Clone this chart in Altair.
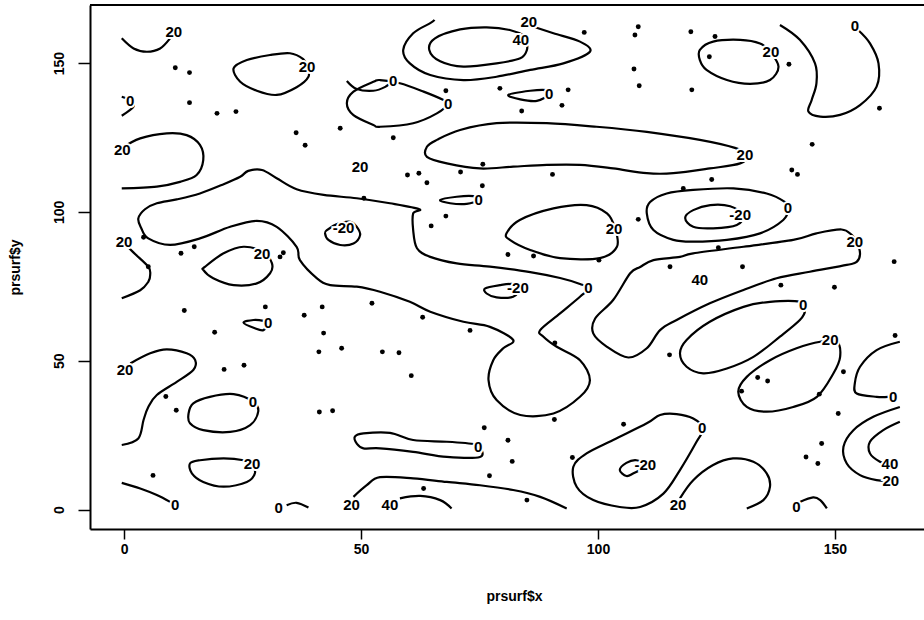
import altair as alt
import pandas as pd

# ---------------- contour lines (x, y in data units) -------------
# open contours (end at the edge of the grid)
open_20_topleft = [(-0.5,158.3),(2.0,154.9),(4.8,153.8),(7.6,154.9),(9.7,158.3),(11.0,161.7)]
open_0_left = [(-0.5,138.7),(1.3,137.5),(2.0,135.4),(-0.5,132.3)]
open_20_left = [(-0.5,121.4),(3.4,124.7),(9.0,126.4),(13.2,125.8),(16.0,122.5),(16.7,117.4),
                (15.3,112.4),(11.8,110.1),(6.9,108.5),(-0.5,107.9)]
open_20_leftedge = [(-0.5,90.6),(1.9,86.5),(5.1,81.6),(5.5,78.8),(5.1,76.5),(3.4,73.7),(-0.5,71.0)]
open_0_toparc = [(47.0,144.0),(49.1,141.3),(52.6,140.7),(55.1,142.0),(56.8,144.2)]
open_20_top = [(65.5,164.5),(64.6,163.4),(61.0,160.0),(58.9,154.4),(60.3,149.9),(64.6,146.0),(71.6,144.3),
               (78.6,145.4),(85.7,147.7),(92.7,149.9),(98.3,153.8),(96.2,157.2),(90.6,160.0),(86.4,162.2)]
open_0_crescent = [(138.4,162.8),(142.6,157.8),(145.8,149.9),(146.1,143.2),(145.1,137.6),(144.4,133.7),
                   (146.9,132.0),(151.1,132.6),(155.3,135.9),(158.8,142.1),(159.2,149.9),(157.4,156.6),
                   (154.9,161.1)]
open_0_right = [(163.7,56.4),(158.8,53.6),(155.3,48.0),(154.2,42.4),(154.6,39.0),(158.8,37.9),(161.2,37.9)]
open_20_right = [(163.7,34.5),(158.1,31.2),(153.9,26.7),(151.8,21.1),(152.5,15.5),(155.3,11.6),
                 (158.8,9.9),(161.5,9.7)]
open_40_right = [(163.7,29.5),(160.2,26.7),(157.4,22.8),(157.4,18.9),(159.5,16.1),(161.5,15.4)]
open_20_bottomright = [(117.3,3.8),(120.1,9.9),(124.3,15.0),(128.5,17.2),(132.8,16.1),(135.6,12.2),
                       (136.3,7.7),(134.9,3.2),(131.4,0.4)]
open_0_bottomright = [(142.6,2.6),(145.4,4.1),(146.9,3.2),(148.3,0.4)]
open_20_leftlower = [(1.3,49.1),(5.5,52.5),(9.0,53.8),(13.2,52.5),(15.0,50.2),(14.6,46.9),(11.1,42.9),
                     (6.9,38.5),(5.1,34.5),(4.1,30.1),(3.0,23.9),(-0.5,21.7)]
open_0_bottomleft = [(-0.5,9.0),(3.4,7.1),(6.9,4.9),(9.7,2.6)]
open_0_bottom = [(34.3,1.5),(36.4,2.3),(38.9,0.7)]
open_20_bottom = [(48.4,4.3),(51.2,8.2),(54.0,10.9),(61.0,10.5),(68.1,9.3),(75.1,8.2),(82.1,6.6),
                  (87.8,4.3),(93.4,0.4)]
open_40_bottom = [(58.2,3.8),(62.5,4.6),(66.7,3.2),(69.1,0.4)]

# closed contours
closed_20_a = [(23.1,148.2),(25.9,151.0),(30.8,152.7),(35.0,153.3),(37.8,151.3),(38.6,148.8),(38.9,145.4),
               (36.4,141.9),(32.2,139.3),(28.0,140.7),(24.5,143.7)]
closed_0_tongue = [(3.0,97.8),(4.4,100.9),(6.9,102.9),(11.1,104.2),(16.0,106.2),(21.0,109.3),(24.5,111.8),
                   (26.2,113.8),(29.1,114.1),(32.2,111.3),(36.4,107.6),(42.1,105.7),(49.1,104.6),
                   (56.1,102.9),(62.3,100.9),(61.0,99.5),(61.0,93.9),(61.8,87.8),(64.6,84.9),(70.2,82.7),
                   (77.2,81.6),(85.7,79.8),(92.0,77.8),(96.2,75.8),(98.0,74.3),(96.2,71.5),(92.0,65.9),
                   (87.8,60.3),(88.5,58.1),(91.3,54.7),(96.2,50.2),(98.3,43.5),(96.2,37.9),(90.6,32.3),
                   (83.6,31.8),(78.6,36.8),(76.9,43.5),(77.9,50.2),(80.0,54.2),(82.1,57.0),(77.2,61.4),
                   (71.6,63.1),(64.6,66.5),(60.3,69.8),(54.0,73.2),(49.1,74.9),(43.5,75.4),(40.7,77.7),
                   (37.1,83.8),(36.4,88.3),(32.2,95.0),(28.0,97.0),(22.4,95.0),(16.0,91.1),(9.7,88.9),
                   (5.1,91.1),(3.6,94.6)]
closed_m20_a = [(42.8,93.9),(44.9,95.9),(47.7,96.7),(49.1,95.0),(49.8,92.2),(48.4,89.4),(45.6,88.9),
                (43.1,90.6),(42.4,92.8)]
closed_20_b = [(17.1,81.6),(21.0,86.1),(25.2,88.3),(29.4,86.5),(31.2,82.7),(30.8,79.4),(28.0,76.0),
               (23.1,75.4),(18.8,77.7),(16.7,80.5)]
closed_0_teardrop = [(67.4,137.6),(63.2,140.4),(58.2,143.2),(54.0,144.3),(52.6,143.7),(48.4,140.4),
                     (47.0,136.5),(48.4,132.5),(52.6,129.2),(54.0,128.6),(61.0,129.8),(66.0,133.1),
                     (68.4,136.5)]
closed_40_top = [(85.0,157.8),(85.0,154.4),(83.6,151.6),(78.6,149.9),(71.6,148.8),(66.7,150.6),(64.4,154.4),
                 (65.6,158.3),(70.9,161.3),(76.5,162.0),(81.4,161.1),(85.0,158.8)]
closed_0_lens_a = [(81.1,139.3),(85.7,140.7),(89.2,140.9),(89.7,139.5),(87.1,137.3),(83.6,137.8)]
closed_20_long = [(63.9,121.9),(66.0,124.2),(70.9,127.5),(78.6,129.8),(89.2,129.8),(99.7,128.6),
                  (110.3,126.9),(121.5,124.2),(128.9,121.5),(131.4,119.1),(130.0,116.3),(123.6,114.6),
                  (115.9,113.0),(110.3,113.0),(103.2,114.6),(96.2,115.8),(89.2,115.8),(82.1,115.2),
                  (75.1,114.6),(68.1,116.3),(63.9,118.5)]
closed_0_lens_b = [(66.7,104.0),(70.2,105.1),(73.7,105.3),(74.8,104.0),(72.3,102.7),(68.8,102.9)]
closed_20_c = [(80.7,92.8),(83.5,97.3),(90.6,101.2),(97.6,102.3),(101.9,99.5),(103.6,94.5),(104.0,88.3),
               (100.4,84.5),(92.0,84.5),(85.7,87.2),(81.4,90.6)]
closed_0_d = [(110.3,99.5),(111.0,103.3),(114.5,106.2),(120.1,107.4),(128.6,107.9),(135.6,106.2),
              (139.5,103.3),(140.2,101.2),(139.1,97.3),(134.2,92.8),(127.2,90.6),(120.1,90.0),
              (115.9,90.6),(111.7,93.9)]
closed_m20_b = [(118.4,98.0),(120.1,100.6),(123.7,102.3),(127.9,101.9),(130.7,98.9),(129.3,95.6),
                (124.3,94.5),(120.1,95.0)]
closed_20_d = [(121.5,154.4),(124.3,157.2),(130.0,157.8),(134.2,156.6),(136.3,153.8),(138.1,148.8),
               (136.3,144.3),(132.1,143.0),(127.2,144.3),(122.9,147.7),(121.5,151.0)]
closed_20_big = [(108.9,81.5),(111.7,83.8),(117.3,84.9),(120.1,86.1),(130.7,88.3),(141.2,90.6),(146.1,92.8),
                 (151.4,94.1),(153.6,92.2),(154.6,90.0),(155.3,86.1),(154.6,83.2),(152.5,82.2),(144.7,79.9),
                 (137.7,77.7),(130.7,73.8),(123.6,69.3),(116.6,63.7),(113.1,60.3),(110.3,54.2),(106.4,51.1),
                 (101.9,54.7),(99.0,59.2),(99.4,64.2),(103.2,70.4),(106.8,79.4)]
closed_0_e = [(142.6,69.8),(136.3,69.8),(130.7,68.1),(123.6,63.1),(118.7,57.0),(117.3,52.5),(118.7,48.0),
              (122.2,45.8),(127.2,47.4),(132.8,51.3),(138.4,58.1),(142.6,63.7),(143.7,67.0)]
closed_20_e = [(150.4,56.4),(151.1,51.3),(149.7,45.8),(146.2,37.9),(141.2,34.5),(135.6,32.9),(131.4,34.5),
               (129.6,39.6),(131.4,44.6),(136.3,50.2),(141.9,54.2),(146.9,56.4)]
closed_0_f = [(122.2,27.3),(120.1,30.6),(116.6,32.1),(113.1,31.8),(110.3,29.0),(103.2,23.4),(97.6,18.9),
              (94.8,14.4),(95.5,7.7),(99.0,3.2),(104.6,0.9),(108.9,0.9),(113.8,5.4),(117.3,13.3),
              (120.8,22.8)]
closed_m20_c = [(104.6,13.3),(106.0,15.7),(108.1,16.6),(110.3,14.9),(107.5,12.2),(106.0,11.3)]
closed_0_g = [(25.2,62.8),(27.3,63.7),(29.4,63.4),(30.4,62.6),(29.4,60.3),(27.6,60.9)]
closed_0_h = [(13.6,32.3),(14.6,35.7),(18.1,37.9),(23.1,38.8),(27.3,36.2),(28.3,32.9),(26.6,28.4),
              (22.4,26.1),(16.7,26.7),(13.9,29.0)]
closed_20_f = [(13.9,15.5),(16.0,16.6),(21.0,17.2),(25.2,16.6),(26.9,15.3),(27.6,12.2),(25.9,9.3),
               (21.0,7.7),(16.7,9.3),(14.3,12.2)]
closed_0_lens_c = [(48.7,24.5),(50.5,25.6),(56.1,25.8),(61.0,23.4),(68.1,22.8),(74.1,22.0),(75.1,21.1),
                   (75.1,17.7),(68.1,17.7),(61.0,19.4),(54.0,20.6),(50.5,20.6),(49.1,22.2)]
closed_m20_d = [(76.2,74.3),(79.3,75.4),(82.1,75.8),(83.5,74.3),(82.1,71.5),(78.6,71.3),(76.5,72.6)]

# contour labels
label_text = ["20","20","0","20","20","20","-20","20","0","0","20","40","0","20","0","20","0","-20",
              "20","0","20","40","0","-20","0","20","0","20","40","0","-20","20","0","20","0","0",
              "20","0","0","0","20","40"]
label_x = [10.5,38.6,1.3,-0.4,0.0,29.1,46.3,49.8,56.8,68.4,85.4,83.7,89.7,131.0,74.8,103.4,140.1,130.0,
           136.5,154.2,154.2,121.5,98.0,83.1,143.3,149.0,162.3,161.8,161.6,122.0,110.0,116.9,141.9,0.2,
           30.4,27.2,27.0,10.8,32.6,74.7,48.0,56.1]
label_y = [160.4,148.8,137.2,120.8,90.0,85.8,94.5,115.2,144.1,136.2,163.9,157.6,139.5,119.1,104.0,94.2,
           101.2,98.9,153.7,162.5,89.9,77.1,74.3,74.4,68.7,57.0,37.8,9.6,15.3,27.3,15.0,1.5,0.9,46.9,
           62.7,36.1,15.3,1.5,0.4,21.0,1.5,1.5]

# observation points
pt_x = [10.8,13.8,13.8,19.6,23.6,36.3,38.2,45.6,50.6,4.1,5.1,12.0,14.8,32.9,33.6,97.1,108.5,107.8,107.6,
        108.7,67.9,79.3,93.7,92.4,83.9,56.8,75.7,59.8,62.2,63.9,71.0,75.6,90.4,67.9,64.8,108.5,81.0,86.4,
        100.2,115.2,119.6,124.7,123.5,140.3,119.8,159.4,145.2,140.9,142.1,124.0,118.0,125.4,130.5,162.5,
        12.7,19.1,29.8,38.0,41.8,52.3,42.1,41.1,45.9,54.5,21.1,25.3,8.8,11.0,41.2,44.0,6.1,63.0,73.0,58.0,
        60.6,90.9,115.1,90.8,105.4,76.0,81.0,81.9,94.6,77.1,63.2,85.0,120.1,138.6,149.9,162.7,133.7,135.8,
        130.3,151.8,146.7,150.7,147.2,143.9,146.4]
pt_y = [148.4,146.8,136.7,133.1,133.7,126.6,122.4,128.1,104.6,91.5,81.6,86.1,88.3,84.9,86.3,160.3,162.2,
        159.4,148.0,142.4,140.7,141.5,141.0,135.8,133.9,124.9,116.0,112.4,113.0,109.8,113.4,108.8,112.6,
        98.6,95.3,97.5,85.7,85.2,83.8,81.6,160.5,158.9,152.1,149.6,141.0,134.8,122.7,114.1,112.6,110.9,
        107.9,88.0,81.6,83.3,66.9,59.6,68.1,65.3,68.1,69.3,59.3,53.0,54.2,53.0,47.1,48.5,38.0,33.4,32.8,
        33.2,11.5,64.6,60.2,52.7,45.0,56.0,52.0,30.3,28.7,27.5,23.3,16.2,17.5,11.4,7.1,3.2,76.8,75.4,74.7,
        58.5,44.4,43.2,39.8,46.3,38.8,32.3,22.2,17.7,15.5]

open_lines = [open_20_topleft, open_0_left, open_20_left, open_20_leftedge, open_0_toparc, open_20_top,
              open_0_crescent, open_0_right, open_20_right, open_40_right, open_20_bottomright,
              open_0_bottomright, open_20_leftlower, open_0_bottomleft, open_0_bottom, open_20_bottom,
              open_40_bottom]
closed_lines = [closed_20_a, closed_0_tongue, closed_m20_a, closed_20_b, closed_0_teardrop, closed_40_top,
                closed_0_lens_a, closed_20_long, closed_0_lens_b, closed_20_c, closed_0_d, closed_m20_b,
                closed_20_d, closed_20_big, closed_0_e, closed_20_e, closed_0_f, closed_m20_c, closed_0_g,
                closed_0_h, closed_20_f, closed_0_lens_c, closed_m20_d]


def to_frame(lines):
    rows = []
    for cid, pts in enumerate(lines):
        for k, (x, y) in enumerate(pts):
            rows.append({"cid": cid, "ord": k, "x": x, "y": y})
    return pd.DataFrame(rows)


df_open = to_frame(open_lines)
df_closed = to_frame(closed_lines)
df_labels = pd.DataFrame({"x": label_x, "y": label_y, "t": label_text})
df_pts = pd.DataFrame({"x": pt_x, "y": pt_y})

FONT = "Liberation Sans"
W, H = 834, 524

xs = alt.Scale(domain=[-7.2, 168.8], nice=False, zero=False)
ys = alt.Scale(domain=[-6.5, 169.5], nice=False, zero=False)
xax = alt.Axis(values=[0, 50, 100, 150], title="prsurf$x", grid=False, domain=True, domainColor="black",
               domainWidth=2, ticks=True, tickColor="black", tickWidth=1.5, tickSize=10,
               labelFont=FONT, labelFontSize=14, labelFontWeight="bold", labelColor="black",
               labelPadding=3, labelFlush=False, titleFont=FONT, titleFontSize=14, titleFontWeight="bold",
               titleColor="black", titleX=424, titleY=67, titleBaseline="middle", titleAnchor="middle")
yax = alt.Axis(values=[0, 50, 100, 150], title="prsurf$y", grid=False, domain=True, domainColor="black",
               domainWidth=2, ticks=True, tickColor="black", tickWidth=1.5, tickSize=12,
               labelFont=FONT, labelFontSize=14, labelFontWeight="bold", labelColor="black",
               labelAngle=270, labelAlign="center", labelBaseline="bottom", labelPadding=12,
               labelFlush=False, titleFont=FONT, titleFontSize=14, titleFontWeight="bold",
               titleColor="black", titleX=-75, titleBaseline="middle", titleAngle=270)

X = alt.X("x:Q", scale=xs, axis=xax)
Y = alt.Y("y:Q", scale=ys, axis=yax)

closed_layer = alt.Chart(df_closed).mark_line(
    interpolate="cardinal-closed", color="black", strokeWidth=2.2, clip=True
).encode(x=X, y=Y, detail="cid:N", order="ord:Q")

open_layer = alt.Chart(df_open).mark_line(
    interpolate="cardinal", color="black", strokeWidth=2.2, clip=True
).encode(x=X, y=Y, detail="cid:N", order="ord:Q")

pts_layer = alt.Chart(df_pts).mark_circle(size=24, color="black", opacity=1).encode(x=X, y=Y)

halo = alt.Chart(df_labels).mark_text(
    font=FONT, fontSize=15, fontWeight="bold", stroke="white", strokeWidth=4, color="white"
).encode(x=X, y=Y, text="t:N")
labels = alt.Chart(df_labels).mark_text(
    font=FONT, fontSize=15, fontWeight="bold", color="black"
).encode(x=X, y=Y, text="t:N")

top_rule = alt.Chart(pd.DataFrame({"a": [0]})).mark_rule(color="black", strokeWidth=2).encode(
    x=alt.value(0), x2=alt.value(W), y=alt.value(0))

chart = alt.layer(closed_layer, open_layer, pts_layer, halo, labels, top_rule).properties(
    width=W, height=H,
    autosize=alt.AutoSizeParams(type="none"),
    padding={"left": 90, "top": 5, "right": 0, "bottom": 91},
    background="white",
).configure_view(stroke=None)

chart.save("out.html", embed_options={"renderer": "svg", "actions": False})
